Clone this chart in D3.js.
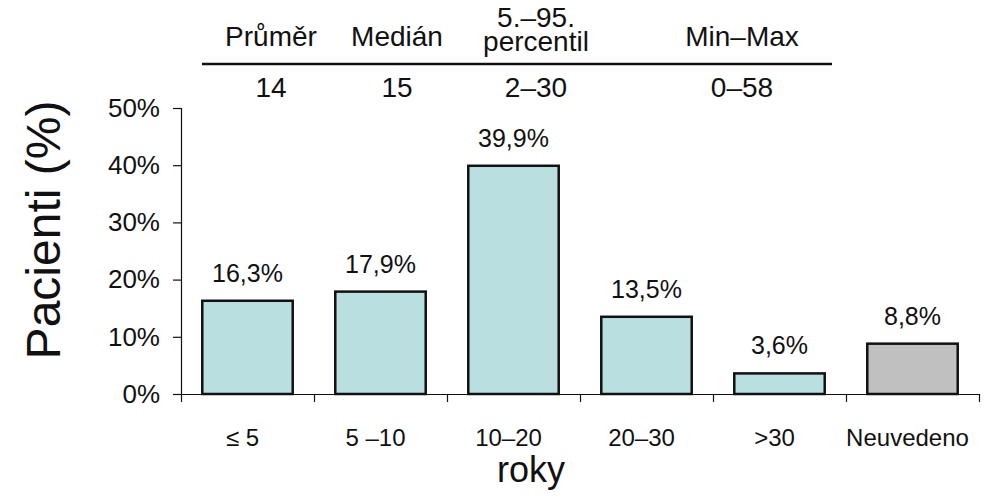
<!DOCTYPE html>
<html>
<head>
<meta charset="utf-8">
<script src="https://cdn.jsdelivr.net/npm/d3@7"></script>
<style>
  html, body { margin: 0; padding: 0; background: #fff; }
  svg { display: block; font-family: Arial, "Liberation Sans", sans-serif; }
</style>
</head>
<body>
<svg id="chart" width="996" height="496"></svg>
<script>
// Patient distribution by years (roky)
const categories = ["≤ 5", "5 –10", "10–20", "20–30", ">30", "Neuvedeno"];
const values = [16.3, 17.9, 39.9, 13.5, 3.6, 8.8];
const valueLabels = ["16,3%", "17,9%", "39,9%", "13,5%", "3,6%", "8,8%"];
const yTicks = [0, 10, 20, 30, 40, 50];

// Summary statistics table above the plot
const statHeaders = [["Průměr"], ["Medián"], ["5.–95.", "percentil"], ["Min–Max"]];
const statValues = ["14", "15", "2–30", "0–58"];

const svg = d3.select("#chart");
const plotLeft = 181, plotRight = 979, plotTop = 108, plotBottom = 394;

const x = d3.scaleBand().domain(categories).range([plotLeft, plotRight])
  .paddingInner(0.32).paddingOuter(0.16);
const edges = d3.scaleLinear().domain([0, categories.length]).range([plotLeft, plotRight]);
const y = d3.scaleLinear().domain([0, 50]).range([plotBottom, plotTop]);

// Bars
svg.append("g").selectAll("rect").data(values).join("rect")
  .attr("x", (d, i) => x(categories[i]))
  .attr("y", d => y(d))
  .attr("width", x.bandwidth())
  .attr("height", d => y(0) - y(d))
  .attr("fill", (d, i) => categories[i] === "Neuvedeno" ? "#c0c0c0" : "#b9dfe0")
  .attr("stroke", "#111")
  .attr("stroke-width", 2.5);

// Value labels
svg.append("g").selectAll("text").data(values).join("text")
  .attr("x", (d, i) => x(categories[i]) + x.bandwidth() / 2)
  .attr("y", d => y(d) - 19)
  .attr("text-anchor", "middle")
  .attr("font-size", 25)
  .attr("fill", "#111")
  .text((d, i) => valueLabels[i]);

// Y axis
const yAxis = svg.append("g").attr("transform", `translate(${plotLeft},0)`)
  .call(d3.axisLeft(y).tickValues(yTicks).tickSize(8).tickPadding(13)
    .tickFormat(d => d + "%"));
yAxis.selectAll("text").attr("font-size", 26).attr("fill", "#111")
  .attr("font-family", "Arial, 'Liberation Sans', sans-serif");
yAxis.selectAll("line, path").attr("stroke", "#111").attr("stroke-width", 1.2);

// X axis with ticks at category boundaries
const xAxis = svg.append("g").attr("transform", `translate(0,${plotBottom})`)
  .call(d3.axisBottom(edges).tickValues(d3.range(categories.length + 1))
    .tickSize(8).tickSizeOuter(0).tickFormat(""));
xAxis.selectAll("line, path").attr("stroke", "#111").attr("stroke-width", 1.2);

// Category labels
svg.append("g").selectAll("text").data(categories).join("text")
  .attr("x", d => x(d) + x.bandwidth() / 2 - 5)
  .attr("y", 446)
  .attr("text-anchor", "middle")
  .attr("font-size", 24)
  .attr("fill", "#111")
  .text(d => d);

// Axis titles
svg.append("text")
  .attr("transform", "translate(60,230) rotate(-90)")
  .attr("text-anchor", "middle")
  .attr("font-size", 48)
  .attr("fill", "#111")
  .text("Pacienti (%)");

svg.append("text")
  .attr("x", 531).attr("y", 482)
  .attr("text-anchor", "middle")
  .attr("font-size", 36)
  .attr("fill", "#111")
  .text("roky");

// Statistics table
const statCenters = [271, 397, 536, 742];
const table = svg.append("g");
statHeaders.forEach((lines, i) => {
  const t = table.append("text")
    .attr("text-anchor", "middle")
    .attr("font-size", 28)
    .attr("fill", "#111");
  if (lines.length === 1) {
    t.attr("x", statCenters[i]).attr("y", 46).text(lines[0]);
  } else {
    t.append("tspan").attr("x", statCenters[i]).attr("y", 27).text(lines[0]);
    t.append("tspan").attr("x", statCenters[i]).attr("y", 51).text(lines[1]);
  }
});
table.append("line")
  .attr("x1", 202).attr("x2", 832).attr("y1", 64).attr("y2", 64)
  .attr("stroke", "#111").attr("stroke-width", 2.5);
table.selectAll("text.val").data(statValues).join("text")
  .attr("class", "val")
  .attr("x", (d, i) => statCenters[i])
  .attr("y", 97)
  .attr("text-anchor", "middle")
  .attr("font-size", 28)
  .attr("fill", "#111")
  .text(d => d);
</script>
</body>
</html>
